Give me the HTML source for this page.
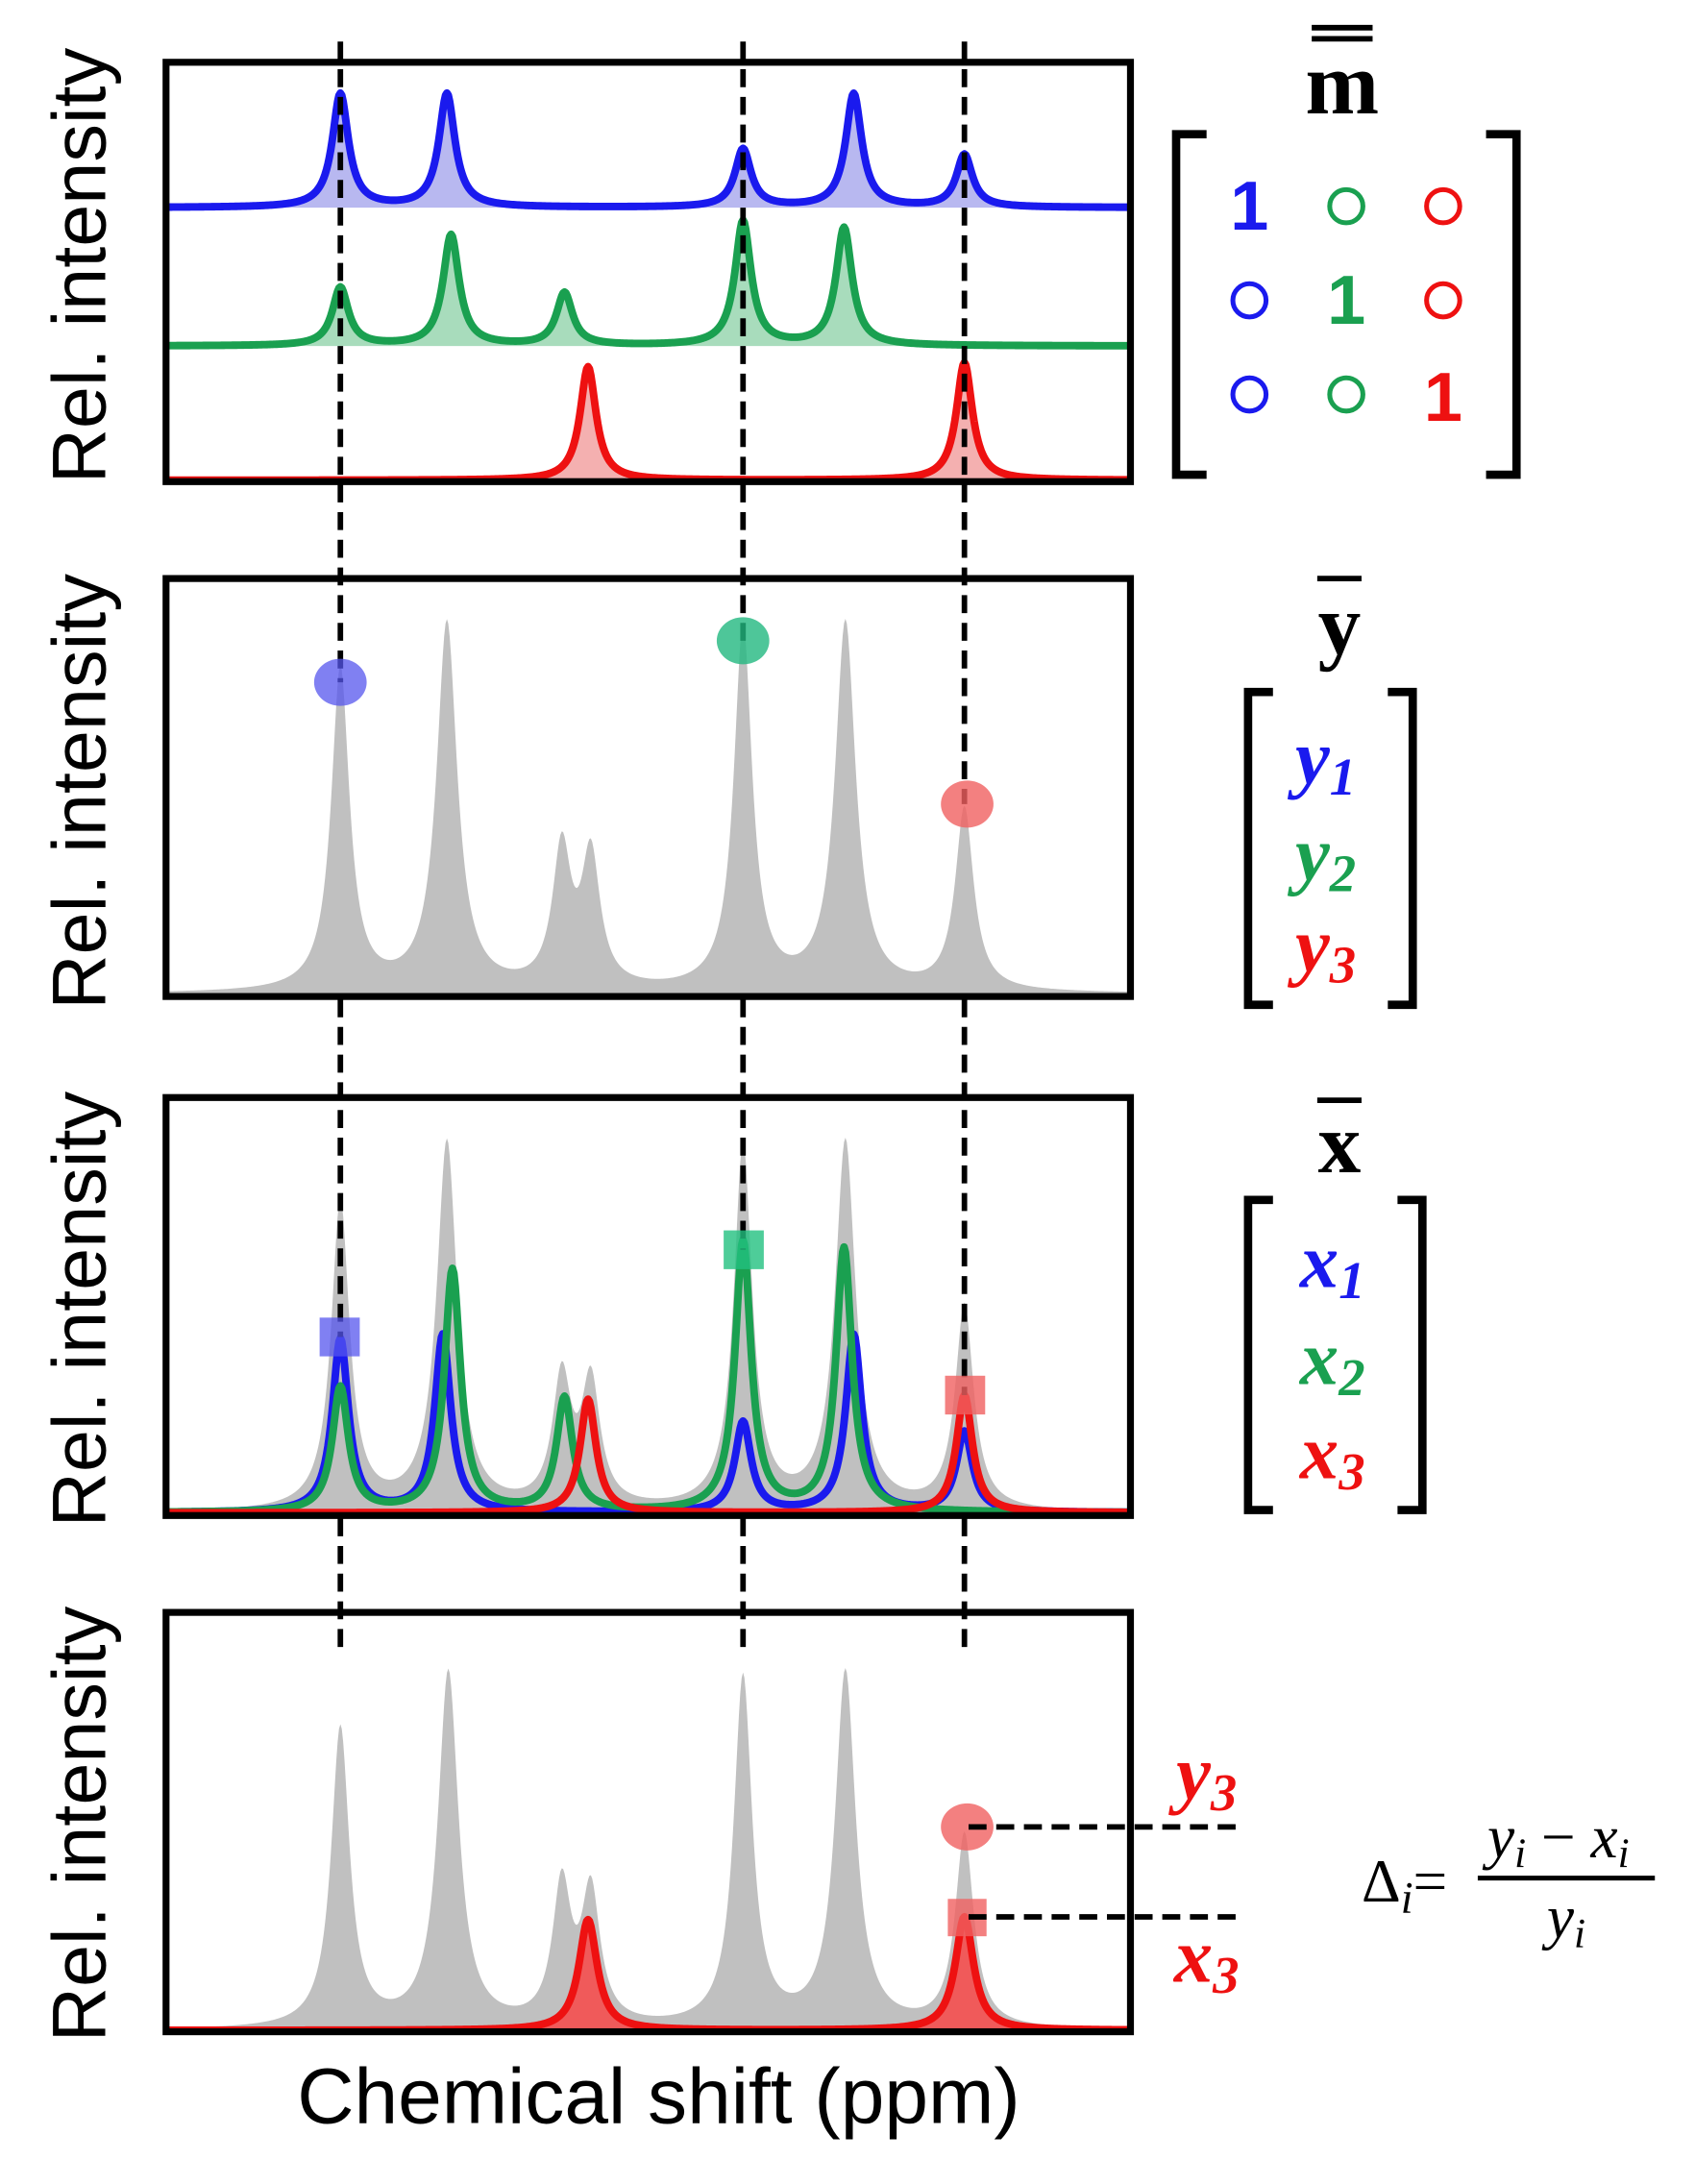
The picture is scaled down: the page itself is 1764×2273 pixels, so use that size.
<!DOCTYPE html>
<html><head><meta charset="utf-8">
<style>
html,body{margin:0;padding:0;background:#fff;}
svg{display:block;}
</style></head>
<body>
<svg id="s" width="1764" height="2273" viewBox="0 0 1225 1578" preserveAspectRatio="none" xmlns="http://www.w3.org/2000/svg">
<rect width="1225" height="1578" fill="#fff"/>
<g id="spec"></g>
<g fill="none" stroke="#000" stroke-width="5">
<rect x="120" y="45" width="697" height="303"/>
<rect x="120" y="418" width="697" height="302"/>
<rect x="120" y="793" width="697" height="302"/>
<rect x="120" y="1165" width="697" height="303"/>
</g>
<g id="dash" stroke="#000" stroke-width="4" stroke-dasharray="13,7" fill="none"></g>
<g id="marks"></g>
<g font-family="Liberation Sans, sans-serif" font-size="55" fill="#000" text-anchor="middle">
<text transform="translate(76,192) rotate(-90)">Rel. intensity</text>
<text transform="translate(76,572) rotate(-90)">Rel. intensity</text>
<text transform="translate(76,946) rotate(-90)">Rel. intensity</text>
<text transform="translate(76,1318) rotate(-90)">Rel. intensity</text>
<text x="476" y="1534" font-size="57">Chemical shift (ppm)</text>
</g>
<g font-family="Liberation Serif, serif" font-weight="bold" text-anchor="middle" fill="#000">
<text x="970" y="82" font-size="64">m</text>
<line x1="948" y1="20" x2="992" y2="20" stroke="#000" stroke-width="4"/>
<line x1="948" y1="28" x2="992" y2="28" stroke="#000" stroke-width="4"/>
<text x="968" y="472" font-size="62">y</text>
<line x1="952" y1="418" x2="984" y2="418" stroke="#000" stroke-width="4"/>
<text x="968" y="847" font-size="62">x</text>
<line x1="952" y1="795" x2="984" y2="795" stroke="#000" stroke-width="4"/>
</g>
<g fill="none" stroke="#000" stroke-width="6">
<polyline points="872,97 850,97 850,343 872,343"/>
<polyline points="1074,97 1096,97 1096,343 1074,343"/>
<polyline points="920,500 902,500 902,726 920,726"/>
<polyline points="1003,500 1021,500 1021,726 1003,726"/>
<polyline points="920,867 902,867 902,1091 920,1091"/>
<polyline points="1010,867 1028,867 1028,1091 1010,1091"/>
</g>
<g font-family="Liberation Sans, sans-serif" font-weight="bold" font-size="50" text-anchor="middle">
<text x="903" y="166" fill="#1a1aee">1</text>
<text x="973" y="234" fill="#1aa050">1</text>
<text x="1043" y="304" fill="#ee1111">1</text>
</g>
<g fill="none" stroke-width="3.5">
<circle cx="973" cy="149" r="12" stroke="#1aa050"/>
<circle cx="1043" cy="149" r="12" stroke="#ee1111"/>
<circle cx="903" cy="217" r="12" stroke="#1a1aee"/>
<circle cx="1043" cy="217" r="12" stroke="#ee1111"/>
<circle cx="903" cy="285" r="12" stroke="#1a1aee"/>
<circle cx="973" cy="285" r="12" stroke="#1aa050"/>
</g>
<g font-family="Liberation Serif, serif" font-weight="bold" font-style="italic" font-size="56" text-anchor="middle">
<text x="958" y="566" fill="#1a1aee">y<tspan font-size="38" dy="8">1</tspan></text>
<text x="958" y="636" fill="#1aa050">y<tspan font-size="38" dy="8">2</tspan></text>
<text x="958" y="702" fill="#ee1111">y<tspan font-size="38" dy="8">3</tspan></text>
<text x="963" y="930" fill="#1a1aee">x<tspan font-size="38" dy="8">1</tspan></text>
<text x="963" y="1000" fill="#1aa050">x<tspan font-size="38" dy="8">2</tspan></text>
<text x="963" y="1068" fill="#ee1111">x<tspan font-size="38" dy="8">3</tspan></text>
<text x="872" y="1300" fill="#ee1111">y<tspan font-size="38" dy="8">3</tspan></text>
<text x="872" y="1432" fill="#ee1111">x<tspan font-size="38" dy="8">3</tspan></text>
</g>
<g stroke="#000" stroke-width="4" stroke-dasharray="13,7">
<line x1="700" y1="1320" x2="893" y2="1320"/>
<line x1="700" y1="1385" x2="893" y2="1385"/>
</g>
<g font-family="Liberation Serif, serif" font-size="44" fill="#000">
<text x="984" y="1374">Δ<tspan font-style="italic" font-size="32" dy="8">i</tspan><tspan dy="-8">=</tspan></text>
<text x="1075" y="1342" font-style="italic">y<tspan font-size="30" dy="7">i</tspan><tspan dy="-7" font-style="normal"> − </tspan>x<tspan font-size="30" dy="7">i</tspan></text>
<line x1="1068" y1="1357" x2="1196" y2="1357" stroke="#000" stroke-width="3.5"/>
<text x="1118" y="1400" font-style="italic">y<tspan font-size="30" dy="7">i</tspan></text>
</g>
</svg>
<script>
var NS="http://www.w3.org/2000/svg";
function L(x,peaks,w){var y=0;for(var i=0;i<peaks.length;i++){var p=peaks[i],ww=p[2]||w;var d=x-p[0];y+=p[1]*ww*ww/(d*d+ww*ww);}return y;}
function path(base,peaks,w,x0,x1){var d="M"+x0+","+base;for(var x=x0;x<=x1;x+=1){d+=" L"+x+","+(base-L(x,peaks,w)).toFixed(2);}d+=" L"+x1+","+base+" Z";return d;}
function line(base,peaks,w,x0,x1){var d="";for(var x=x0;x<=x1;x+=1){d+=(x==x0?"M":" L")+x+","+(base-L(x,peaks,w)).toFixed(2);}return d;}
var g=document.getElementById("spec");
function add(d,fill,stroke,sw){var p=document.createElementNS(NS,"path");p.setAttribute("d",d);p.setAttribute("fill",fill);if(stroke){p.setAttribute("stroke",stroke);p.setAttribute("stroke-width",sw);p.setAttribute("stroke-linejoin","round");}g.appendChild(p);}
var B="#1a1aee",G="#1aa050",R="#ee1111";
function lor(base,pk,col,fillcol){add(path(base,pk,7,122,815),fillcol,null);add(line(base,pk,7,122,815),"none",col,5.5);}
lor(150,[[246,82],[323,82],[537,42],[617,82],[697,38]],B,"#b8b8f0");
lor(250,[[246,42],[326,80],[408,38],[537,90],[610,85]],G,"#a8dcbc");
lor(347,[[425,82],[697,85]],R,"#f4b0b0");
var gp=[[246,233],[323,266,9],[406,100],[427,95],[537,263],[611,266,9],[697,132]];
add(path(718,gp,8,122,815),"#c0c0c0",null);
var gp3=[[246,223],[323,266,9],[406,93],[427,90],[537,263],[611,266,9],[697,148]];
add(path(1093,gp3,8,122,815),"#c0c0c0",null);
var gp4=[[246,217],[324,257,9],[406,100],[427,95],[537,253],[611,257,9],[697,140]];
add(path(1467,gp4,8,122,815),"#c0c0c0",null);
add(line(1093,[[246,125],[320,128],[537,65],[617,128],[697,58]],7,122,815),"none",B,5.5);
add(line(1093,[[246,90],[327,175],[408,82],[537,195],[610,190]],7,122,815),"none",G,5.5);
add(line(1093,[[425,82],[697,85]],7,122,815),"none",R,5.5);
add(path(1467,[[425,80],[697,82]],8,122,815),"#f05a5a",null);
add(line(1467,[[425,80],[697,82]],8,122,815),"none",R,5.5);
var dg=document.getElementById("dash");
function dl(x,y1,y2){var l=document.createElementNS(NS,"line");l.setAttribute("x1",x);l.setAttribute("x2",x);l.setAttribute("y1",y1);l.setAttribute("y2",y2);dg.appendChild(l);}
dl(246,30,493);dl(537,30,463);dl(697,30,581);
dl(246,722,966);dl(537,722,903);dl(697,722,1008);
dl(246,1097,1192);dl(537,1097,1192);dl(697,1097,1192);
var mk=document.getElementById("marks");
function el(tag,attrs){var e=document.createElementNS(NS,tag);for(var k in attrs)e.setAttribute(k,attrs[k]);mk.appendChild(e);}
el("ellipse",{cx:246,cy:493,rx:19,ry:17,fill:"#5555ee","fill-opacity":0.75});
el("ellipse",{cx:537,cy:463,rx:19,ry:17,fill:"#22b880","fill-opacity":0.8});
el("ellipse",{cx:699,cy:581,rx:19,ry:17,fill:"#f06060","fill-opacity":0.8});
el("rect",{x:231,y:952,width:29,height:28,fill:"#5555ee","fill-opacity":0.75});
el("rect",{x:523,y:889,width:29,height:28,fill:"#22c080","fill-opacity":0.8});
el("rect",{x:683,y:994,width:29,height:28,fill:"#f06060","fill-opacity":0.8});
el("ellipse",{cx:699,cy:1320,rx:19,ry:17,fill:"#f06060","fill-opacity":0.8});
el("rect",{x:685,y:1372,width:28,height:27,fill:"#f06060","fill-opacity":0.8});
</script>
</body></html>
